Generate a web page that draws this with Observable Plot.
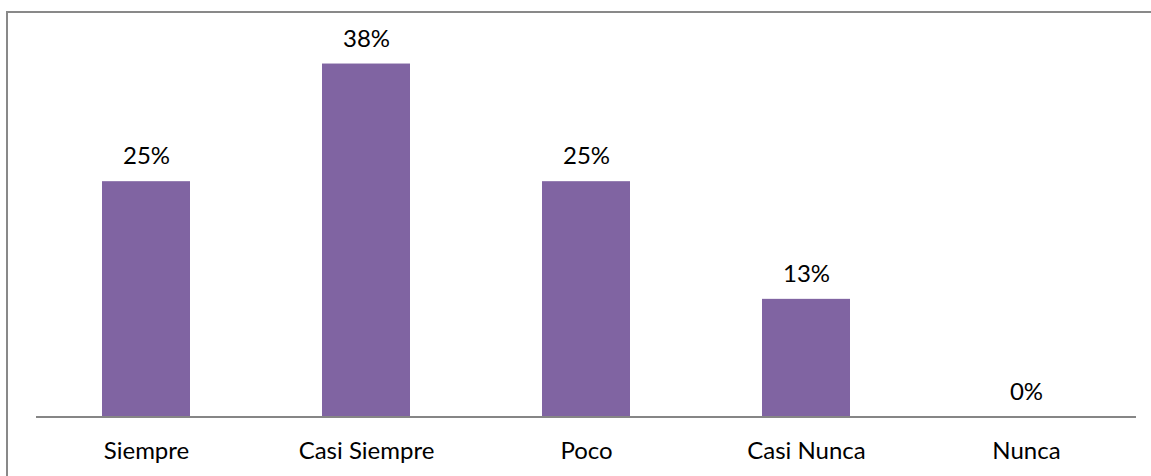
<!DOCTYPE html>
<html>
<head>
<meta charset="utf-8">
<script src="https://cdn.jsdelivr.net/npm/d3@7"></script>
<script src="https://cdn.jsdelivr.net/npm/@observablehq/plot@0.6"></script>
<style>
  html, body { margin: 0; padding: 0; background: #fff; }
  #wrap { position: relative; width: 1151px; height: 476px; overflow: hidden; }
  #border {
    position: absolute; left: 6px; top: 11px; width: 2000px; height: 2000px;
    border-left: 2px solid #898989; border-top: 2px solid #898989;
    pointer-events: none;
  }
  #chart { position: absolute; left: 0; top: 0; }
</style>
</head>
<body>
<div id="wrap">
  <div id="chart"></div>
  <div id="border"></div>
</div>
<script>
// Response categories and their shares
const categories = ["Siempre", "Casi Siempre", "Poco", "Casi Nunca", "Nunca"];
const shares = [0.25, 0.375, 0.25, 0.125, 0];

const rows = categories.map((c, i) => ({category: c, share: shares[i]}));
const pct = d3.format(".0%");
const font = "Lato, 'Open Sans', sans-serif";

const chart = Plot.plot({
  width: 1151,
  height: 476,
  marginLeft: 36,
  marginRight: 15,
  marginTop: 40,
  marginBottom: 59.5,
  style: {fontFamily: font, color: "#000", background: "transparent"},
  x: {domain: categories, paddingInner: 0.6, paddingOuter: 0.3, label: null},
  y: {domain: [0, 0.4], axis: null},
  marks: [
    Plot.barY(rows, {x: "category", y: "share", fill: "#8064A2"}),
    Plot.ruleY([0], {stroke: "#868686", strokeWidth: 2}),
    Plot.text(rows, {
      x: "category", y: "share", text: d => pct(d.share),
      lineAnchor: "middle", dy: -25, fontSize: 24, fill: "#000"
    }),
    Plot.axisX({tickSize: 0, tickPadding: 25, fontSize: 24, fill: "#000", label: null})
  ]
});
document.getElementById("chart").appendChild(chart);
</script>
</body>
</html>
